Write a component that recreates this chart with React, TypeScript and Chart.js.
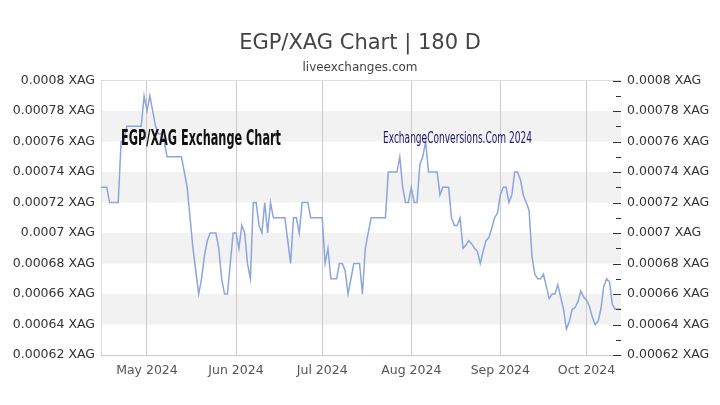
import React, { useEffect, useRef } from "react";
import { Chart, registerables } from "chart.js";

Chart.register(...registerables);

// Day index 0 = 15 Apr 2024
const rates: number[] = [
  0.00073, 0.00073, 0.00073, 0.00072, 0.00072, 0.00072, 0.00072, 0.00076, 0.00076, 0.00077,
  0.00077, 0.00077, 0.00077, 0.00077, 0.00077, 0.00079, 0.00078, 0.00079, 0.00078, 0.00077,
  0.000765, 0.000765, 0.00076, 0.00075, 0.00075, 0.00075, 0.00075, 0.00075, 0.00075, 0.00074,
  0.00073, 0.00071, 0.00069, 0.000675, 0.00066, 0.00067, 0.000685, 0.000695, 0.0007, 0.0007,
  0.0007, 0.00069, 0.00067, 0.00066, 0.00066, 0.00068, 0.0007, 0.0007, 0.00069, 0.000705,
  0.0007, 0.00068, 0.00067, 0.00072, 0.00072, 0.000705, 0.0007, 0.00072, 0.0007, 0.00072,
  0.00071, 0.00071, 0.00071, 0.00071, 0.00071, 0.000695, 0.00068, 0.00071, 0.00071, 0.0007,
  0.00072, 0.00072, 0.00072, 0.00071, 0.00071, 0.00071, 0.00071, 0.00071, 0.00068, 0.00069,
  0.00067, 0.00067, 0.00067, 0.00068, 0.00068, 0.000675, 0.00066, 0.00067, 0.00068, 0.00068,
  0.00068, 0.00066, 0.00069, 0.0007, 0.00071, 0.00071, 0.00071, 0.00071, 0.00071, 0.00071,
  0.00074, 0.00074, 0.00074, 0.00074, 0.00075, 0.00073, 0.00072, 0.00072, 0.00073, 0.00072,
  0.00072, 0.000745, 0.00075, 0.00076, 0.00074, 0.00074, 0.00074, 0.00074, 0.000725, 0.00073,
  0.00073, 0.00073, 0.00071, 0.000705, 0.000705, 0.00071, 0.00069, 0.000692, 0.000695, 0.000693,
  0.00069, 0.000688, 0.00068, 0.000688, 0.000695, 0.000697, 0.000703, 0.00071, 0.000713, 0.000725,
  0.00073, 0.00073, 0.00072, 0.000725, 0.00074, 0.00074, 0.000735, 0.000725, 0.00072, 0.000715,
  0.000685, 0.000673, 0.00067, 0.00067, 0.000673, 0.000665, 0.000657, 0.00066, 0.00066, 0.000666,
  0.000658, 0.00065, 0.000637, 0.000642, 0.00065, 0.000651, 0.000655, 0.000662, 0.000658, 0.000656,
  0.000652, 0.000645, 0.00064, 0.000642, 0.00065, 0.000665, 0.00067, 0.000668, 0.000653, 0.00065,
  0.00065, 0.00065,
];
const days: number[] = rates.map((_, i) => i);

const monthTickDays: number[] = [16, 47, 77, 108, 139, 169];
const monthTickLabels: string[] = ["May 2024", "Jun 2024", "Jul 2024", "Aug 2024", "Sep 2024", "Oct 2024"];

const yMin = 0.00062;
const yMax = 0.0008;
const yStep = 0.00002;
const bandRanges: [number, number][] = [
  [0.00064, 0.00066],
  [0.00068, 0.0007],
  [0.00072, 0.00074],
  [0.00076, 0.00078],
];

const titleText = "EGP/XAG Chart | 180 D";
const subtitleText = "liveexchanges.com";
const watermarkLeft = "EGP/XAG Exchange Chart";
const watermarkRight = "ExchangeConversions.Com 2024";

const fmt = (v: number) => Number(Number(v).toFixed(6)).toString() + " XAG";

const bandsPlugin = {
  id: "bands",
  beforeDraw(chart: any) {
    const { ctx, chartArea } = chart;
    const ys = chart.scales.y;
    ctx.save();
    ctx.fillStyle = "#f2f2f2";
    for (const [lo, hi] of bandRanges) {
      const y1 = ys.getPixelForValue(hi);
      const y2 = ys.getPixelForValue(lo);
      ctx.fillRect(chartArea.left, y1, chartArea.right - chartArea.left, y2 - y1);
    }
    ctx.restore();
  },
};

const overlayPlugin = {
  id: "overlay",
  afterDatasetsDraw(chart: any) {
    const { ctx, chartArea } = chart;
    ctx.save();
    ctx.fillStyle = "#111";
    ctx.font = "bold 16px 'Liberation Sans Narrow', 'DejaVu Sans Condensed', sans-serif";
    let w = ctx.measureText(watermarkLeft).width;
    ctx.translate(chartArea.left + 20, chartArea.top + 64);
    ctx.scale(160 / w, 1.35);
    ctx.textBaseline = "alphabetic";
    ctx.fillText(watermarkLeft, 0, 0);
    ctx.restore();

    ctx.save();
    ctx.fillStyle = "#1a1a6e";
    ctx.font = "12px 'Liberation Sans Narrow', 'DejaVu Sans Condensed', sans-serif";
    w = ctx.measureText(watermarkRight).width;
    ctx.translate(chartArea.left + 282, chartArea.top + 62);
    ctx.scale(149 / w, 1.3);
    ctx.fillText(watermarkRight, 0, 0);
    ctx.restore();

    const y2 = chart.scales.y2;
    ctx.save();
    ctx.strokeStyle = "#333";
    ctx.lineWidth = 1;
    for (let k = 0; k <= Math.round((yMax - yMin) / (yStep / 2)); k++) {
      const v = yMin + (k * yStep) / 2;
      const py = Math.round(y2.getPixelForValue(v)) + 0.5;
      const len = k % 2 === 0 ? 8 : 5;
      ctx.beginPath();
      ctx.moveTo(chartArea.right - len, py);
      ctx.lineTo(chartArea.right, py);
      ctx.stroke();
    }
    ctx.restore();
  },
};

export default function App() {
  const ref = useRef<HTMLCanvasElement | null>(null);
  useEffect(() => {
    if (!ref.current) return;
    const tickFont = { family: "'DejaVu Sans', sans-serif", size: 12.5 };
    const chart = new Chart(ref.current, {
      type: "line",
      data: {
        labels: days,
        datasets: [
          {
            data: rates,
            borderColor: "#8ea4dd",
            borderWidth: 1.5,
            pointRadius: 0,
            tension: 0,
            fill: false,
          },
        ],
      },
      options: {
        responsive: false,
        animation: false,
        layout: { padding: { left: 0, right: 0, top: 0, bottom: 0 } },
        plugins: {
          legend: { display: false },
          tooltip: { enabled: false },
          title: {
            display: true,
            text: titleText,
            color: "#444",
            font: { family: "'DejaVu Sans', sans-serif", size: 21, weight: "normal" },
            padding: { top: 31, bottom: 0 },
          },
          subtitle: {
            display: true,
            text: subtitleText,
            color: "#444",
            font: { family: "'DejaVu Sans', sans-serif", size: 12 },
            padding: { top: 4, bottom: 6 },
          },
        },
        scales: {
          x: {
            type: "linear",
            min: 0,
            max: days.length - 1,
            afterBuildTicks: (scale: any) => {
              scale.ticks = monthTickDays.map((v) => ({ value: v }));
            },
            afterFit: (scale: any) => {
              scale.height = 50;
            },
            ticks: {
              autoSkip: false,
              maxRotation: 0,
              color: "#555",
              font: tickFont,
              padding: 8,
              callback: (v: any) => {
                const i = monthTickDays.indexOf(Number(v));
                return i >= 0 ? monthTickLabels[i] : "";
              },
            },
            grid: { color: "#cccccc", drawTicks: false },
            border: { color: "#cccccc" },
          },
          y: {
            position: "left",
            min: yMin,
            max: yMax,
            afterFit: (scale: any) => {
              scale.width = 101;
            },
            ticks: {
              stepSize: yStep,
              color: "#333",
              font: tickFont,
              padding: 6,
              callback: (v: any) => fmt(v),
            },
            grid: {
              drawTicks: false,
              color: (c: any) => (c.tick && Math.abs(c.tick.value - yMax) < 1e-9 ? "#dddddd" : "rgba(0,0,0,0)"),
            },
            border: { color: "#dddddd" },
          },
          y2: {
            position: "right",
            min: yMin,
            max: yMax,
            afterFit: (scale: any) => {
              scale.width = 99;
            },
            ticks: {
              stepSize: yStep,
              color: "#333",
              font: tickFont,
              padding: 6,
              callback: (v: any) => fmt(v),
            },
            grid: { drawOnChartArea: false, drawTicks: false },
            border: { display: false },
          },
        },
      },
      plugins: [bandsPlugin, overlayPlugin],
    } as any);
    return () => chart.destroy();
  }, []);
  return (
    <div style={{ position: "fixed", left: 0, top: 0, width: 720, height: 405, background: "#fff" }}>
      <canvas ref={ref} width={720} height={405} />
    </div>
  );
}
